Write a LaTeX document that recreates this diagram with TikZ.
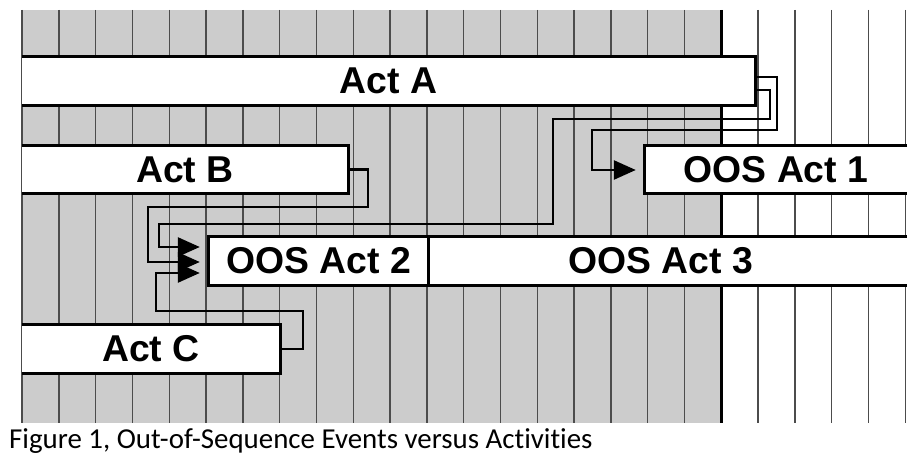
\documentclass[tikz,border=0pt]{standalone}
\usepackage{fontspec}
\setmainfont{Liberation Sans}
\newfontfamily\capfont[Ligatures=NoCommon]{Carlito}
\usetikzlibrary{arrows.meta, positioning, calc}
\definecolor{bggray}{RGB}{204,204,204}

\begin{document}
\begin{tikzpicture}[x=1bp, y=-1bp,
    bar/.style={fill=white, inner sep=0pt, minimum height=48bp, font=\fontsize{37.5}{40}\selectfont\bfseries},
    outline/.style={line width=3.2bp},
    link/.style={line width=2.6bp, -{Triangle[length=22bp, width=19bp]}, shorten >=9bp},
    gridline/.style={line width=1.4bp, black!70}]
    \useasboundingbox (0,0) rectangle (919,462);

    % 灰色背景和网格
    \fill[bggray] (22,10) rectangle (721.2,423);
    \foreach \k in {0,...,24} {
        \draw[gridline] (22+36.8*\k, 10) -- (22+36.8*\k, 423);
    }
    \draw[line width=3.4bp] (721.2,10) -- (721.2,423);

    % 活动条
    \node[bar, minimum width=733bp] (actA) at (388.5,81) {Act A};
    \node[bar, minimum width=326bp] (actB) at (185,169.5) {Act B};
    \node[bar, minimum width=262bp] (oos1) at (776,169.5) {OOS Act 1};
    \node[bar, minimum width=219bp] (oos2) at (318.5,261) {OOS Act 2};
    \node[bar, minimum width=479bp] (oos3) at (667.5,261) {\hspace*{-14bp}OOS Act 3};
    \node[bar, minimum width=258bp] (actC) at (151,349) {Act C};

    % 边框
    \draw[outline] (actA.north west) -- (actA.north east) -- (actA.south east) -- (actA.south west);
    \draw[outline] (actB.north west) -- (actB.north east) -- (actB.south east) -- (actB.south west);
    \draw[outline] (actC.north west) -- (actC.north east) -- (actC.south east) -- (actC.south west);
    \draw[outline] (oos1.north east) -- (oos1.north west) -- (oos1.south west) -- (oos1.south east);
    \draw[outline] (oos3.north east) -- (oos2.north west) -- (oos2.south west) -- (oos3.south east);
    \draw[outline] (oos2.north east) -- (oos2.south east);

    % 连接线
    \draw[link] ([yshift=4bp]actA.east) -| (777,130) -| (592,170) -- (oos1.west |- 0,170);
    \draw[link] ([yshift=-9bp]actA.east) -| (770,119) -| (553,224) -| (159,247) -- (oos2.west |- 0,247);
    \draw[link] (actB.east) -| (368,207) -| (148,262) -- (oos2.west |- 0,262);
    \draw[link] (actC.east) -| (303,311) -| (156,273) -- (oos2.west |- 0,273);

    % 图题
    \node[anchor=base west, inner sep=0pt, font=\capfont\fontsize{29}{32}\selectfont] (caption) at (9,448)
        {Figure 1, Out-of-Sequence Events versus Activities};
\end{tikzpicture}
\end{document}
